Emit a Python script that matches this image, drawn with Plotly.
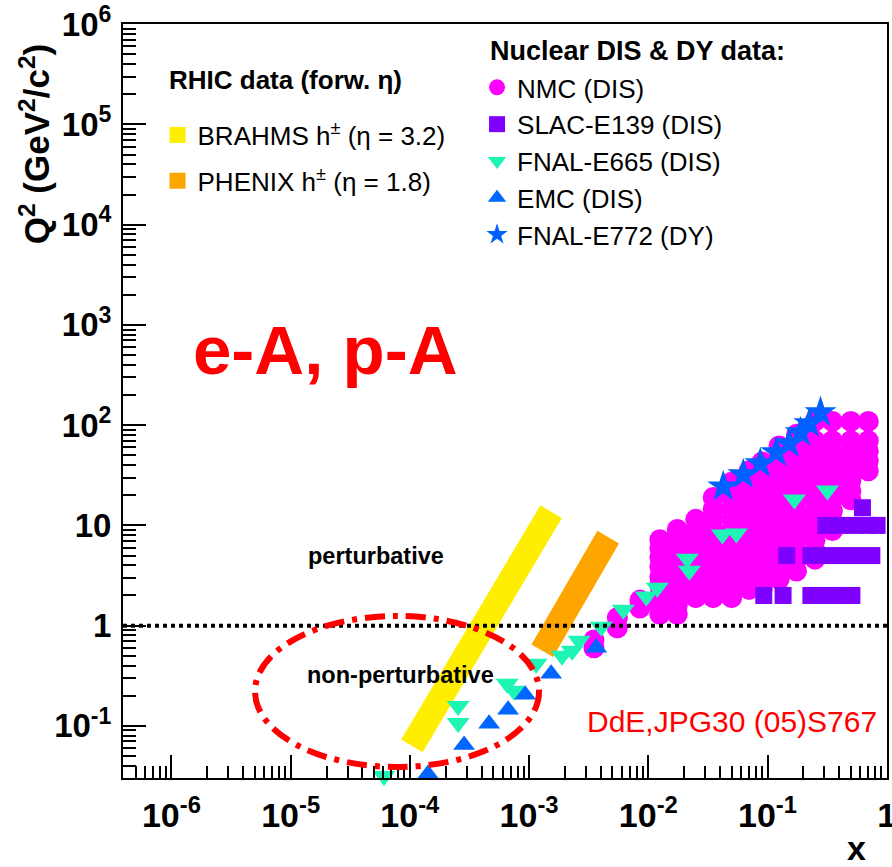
import plotly.graph_objects as go

FONT = "Liberation Sans"

# ---------------- data ----------------
# NMC (DIS): x bins and the Q^2 values measured in each bin
nmc_x_bins = [0.0035, 0.0055, 0.0085, 0.0125, 0.0175, 0.025, 0.035, 0.05,
              0.07, 0.09, 0.125, 0.175, 0.25, 0.35, 0.5, 0.7]
nmc_q2_bins = [
    [0.6, 0.72],
    [0.95, 1.2],
    [1.5, 1.8],
    [1.3, 1.6, 2.0, 2.5, 3.1, 3.9, 4.8, 5.9, 7.2],
    [1.3, 1.6, 2.0, 2.5, 3.1, 3.9, 4.8, 6.0, 7.4, 9.1],
    [1.9, 2.4, 3.0, 3.7, 4.6, 5.7, 7.1, 9.0, 11.5],
    [1.9, 2.4, 3.0, 3.7, 4.6, 5.7, 7.1, 9.0, 11.5, 14.5, 19],
    [1.9, 2.4, 3.0, 3.7, 4.6, 5.7, 7.1, 9.0, 11.5, 14.5, 18.5, 23, 27],
    [2.3, 2.9, 3.6, 4.5, 5.6, 7.1, 8.9, 11, 14, 18, 22, 28, 35],
    [2.3, 2.9, 3.6, 4.5, 5.6, 7.1, 8.9, 11, 14, 18, 22, 28, 35, 43],
    [2.9, 3.6, 4.5, 5.6, 7.1, 8.9, 11, 14, 18, 22, 28, 35, 44, 55, 62],
    [3.5, 4.5, 5.6, 7.1, 8.9, 11, 14, 18, 22, 28, 35, 44, 55, 68, 81],
    [4.6, 5.6, 7.1, 8.9, 11, 14, 18, 22, 28, 35, 44, 55, 70, 109],
    [8.9, 11, 14, 18, 22, 28, 35, 44, 55, 70, 109],
    [18, 22, 28, 35, 44, 55, 70, 109],
    [35, 44, 55, 70, 109],
]

# SLAC-E139 (DIS)
slac_x = [0.093, 0.135, 0.231, 0.307, 0.41, 0.51,
          0.145, 0.231, 0.307, 0.41, 0.55, 0.75,
          0.309, 0.41, 0.547, 0.70, 0.83,
          0.625]
slac_q2 = [2, 2, 2, 2, 2, 2,
           5, 5, 5, 5, 5, 5,
           10, 10, 10, 10, 10,
           15]

# FNAL-E665 (DIS)
e665_x = [6.07e-5, 2.54e-4, 2.54e-4, 6.55e-4, 7.48e-4, 1.145e-3, 1.89e-3,
          2.30e-3, 2.63e-3, 4.03e-3, 6.17e-3, 9.62e-3, 1.19e-2, 2.12e-2,
          2.21e-2, 4.18e-2, 5.47e-2, 0.168, 0.318]
e665_q2 = [0.0316, 0.158, 0.107, 0.263, 0.224, 0.416, 0.50,
           0.561, 0.706, 0.975, 1.44, 1.95, 2.39, 4.66,
           3.53, 8.09, 8.28, 18.1, 22.3]

# EMC (DIS)
emc_x = [1.42e-4, 2.85e-4, 4.62e-4, 6.67e-4, 9.27e-4, 1.53e-3, 3.66e-3]
emc_q2 = [0.0331, 0.0646, 0.105, 0.145, 0.204, 0.331, 0.601]

# FNAL-E772 (DY)
e772_x = [0.0425, 0.0626, 0.087, 0.1186, 0.152, 0.189, 0.224, 0.278]
e772_q2 = [24.4, 32.2, 41.5, 53.4, 65.7, 84.6, 104, 134]

# RHIC forward-rapidity coverage
brahms_x = [1.04e-4, 1.53e-3]
brahms_q2 = [0.063, 13.7]
phenix_x = [1.29e-3, 4.61e-3]
phenix_q2 = [0.561, 7.64]

# axis ticks
x_tickvals = [1e-6, 1e-5, 1e-4, 1e-3, 1e-2, 1e-1, 1]
x_ticktext = ["10<sup>-6</sup>", "10<sup>-5</sup>", "10<sup>-4</sup>",
              "10<sup>-3</sup>", "10<sup>-2</sup>", "10<sup>-1</sup>", "1"]
y_tickvals = [0.1, 1, 10, 100, 1e3, 1e4, 1e5, 1e6]
y_ticktext = ["10<sup>-1</sup>", "1", "10", "10<sup>2</sup>", "10<sup>3</sup>",
              "10<sup>4</sup>", "10<sup>5</sup>", "10<sup>6</sup>"]

# ---------------- colours ----------------
C_NMC = "#FF00FF"
C_SLAC = "#8000FF"
C_E665 = "#1EF5B4"
C_EMC = "#0066FF"
C_E772 = "#0060FF"
C_BRAHMS = "#FFEE00"
C_PHENIX = "#FFA500"
RED = "#FF0000"

nmc_x = [x for x, qs in zip(nmc_x_bins, nmc_q2_bins) for _ in qs]
nmc_q2 = [q for qs in nmc_q2_bins for q in qs]

fig = go.Figure()

# RHIC bands (thick lines)
fig.add_trace(go.Scatter(x=brahms_x, y=brahms_q2, mode="lines",
                         line=dict(color=C_BRAHMS, width=25),
                         showlegend=False, hoverinfo="skip"))
fig.add_trace(go.Scatter(x=phenix_x, y=phenix_q2, mode="lines",
                         line=dict(color=C_PHENIX, width=25),
                         showlegend=False, hoverinfo="skip"))

# legend swatches for RHIC
fig.add_trace(go.Scatter(x=[None], y=[None], mode="markers",
                         marker=dict(symbol="square", size=18, color=C_BRAHMS),
                         name="BRAHMS h<sup>±</sup> (η = 3.2)",
                         legend="legend", legendgroup="g1"))
fig.add_trace(go.Scatter(x=[None], y=[None], mode="markers",
                         marker=dict(symbol="square", size=18, color=C_PHENIX),
                         name="PHENIX h<sup>±</sup> (η = 1.8)",
                         legend="legend", legendgroup="g2"))

# nuclear DIS & DY data
fig.add_trace(go.Scatter(x=nmc_x, y=nmc_q2, mode="markers", name="NMC (DIS)",
                         marker=dict(symbol="circle", size=21, color=C_NMC, line=dict(width=0)),
                         legend="legend2", legendgroup="h1", cliponaxis=False))
fig.add_trace(go.Scatter(x=slac_x, y=slac_q2, mode="markers", name="SLAC-E139 (DIS)",
                         marker=dict(symbol="square", size=17, color=C_SLAC, line=dict(width=0)),
                         legend="legend2", legendgroup="h2", cliponaxis=False))
fig.add_trace(go.Scatter(x=e665_x, y=e665_q2, mode="markers", name="FNAL-E665 (DIS)",
                         marker=dict(symbol="triangle-down", size=20, color=C_E665, line=dict(width=0)),
                         legend="legend2", legendgroup="h3", cliponaxis=False))
fig.add_trace(go.Scatter(x=emc_x, y=emc_q2, mode="markers", name="EMC (DIS)",
                         marker=dict(symbol="triangle-up", size=19, color=C_EMC, line=dict(width=0)),
                         legend="legend2", legendgroup="h4", cliponaxis=False))
fig.add_trace(go.Scatter(x=e772_x, y=e772_q2, mode="markers", name="FNAL-E772 (DY)",
                         marker=dict(symbol="star", size=24, color=C_E772, line=dict(width=0)),
                         legend="legend2", legendgroup="h5", cliponaxis=False))

axis_common = dict(
    type="log", tickmode="array", ticks="inside", tickwidth=1.5,
    tickcolor="black", showline=True, linecolor="black", linewidth=2,
    mirror=True, showgrid=False, zeroline=False, automargin=False,
    ticklabeloverflow="allow",
)

fig.update_layout(
    template="none",
    width=892, height=867,
    margin=dict(l=123, r=5, t=24, b=89, pad=0),
    paper_bgcolor="white", plot_bgcolor="white",
    font=dict(family=FONT, color="black"),
    showlegend=True,
    xaxis=dict(axis_common, range=[-6.406, 0.002], tickvals=x_tickvals, ticktext=x_ticktext,
               ticklen=23, ticklabelstandoff=6,
               tickfont=dict(family=FONT, size=34, color="black", weight="bold"),
               minor=dict(ticks="inside", ticklen=12, tickwidth=1.5, tickcolor="black",
                          dtick="D1", showgrid=False)),
    yaxis=dict(axis_common, range=[-1.52, 6.002], tickvals=y_tickvals, ticktext=y_ticktext,
               ticklen=23, ticklabelstandoff=3,
               tickfont=dict(family=FONT, size=33, color="black", weight="bold"),
               minor=dict(ticks="inside", ticklen=13, tickwidth=1.5, tickcolor="black",
                          dtick="D1", showgrid=False)),
    legend=dict(x=0.0452, y=0.8839, xanchor="left", yanchor="top",
                bgcolor="rgba(0,0,0,0)", borderwidth=0,
                font=dict(family=FONT, size=26, color="black"),
                traceorder="grouped", tracegroupgap=9, itemclick=False),
    legend2=dict(x=0.4634, y=0.9470, xanchor="left", yanchor="top",
                 bgcolor="rgba(0,0,0,0)", borderwidth=0,
                 font=dict(family=FONT, size=26, color="black"),
                 traceorder="grouped", tracegroupgap=0, itemclick=False),
    shapes=[
        dict(type="line", xref="paper", yref="y", x0=0, x1=1, y0=1, y1=1,
             line=dict(color="black", width=4, dash="4px,4px"), layer="above"),
        dict(type="circle", xref="paper", yref="paper",
             x0=0.1728, x1=0.5445, y0=0.0146, y1=0.2149,
             line=dict(color=RED, width=6, dash="20px,8px,5px,8px"), layer="above"),
    ],
    annotations=[
        dict(text="Q<sup>2</sup> (GeV<sup>2</sup>/c<sup>2</sup>)", xref="paper", yref="paper",
             x=-0.1152, y=0.8405, textangle=-90, showarrow=False,
             xanchor="center", yanchor="middle",
             font=dict(family=FONT, size=35, color="black", weight="bold")),
        dict(text="x", xref="paper", yref="paper", x=0.9607, y=-0.0935,
             showarrow=False, xanchor="center", yanchor="middle",
             font=dict(family=FONT, size=34, color="black", weight="bold")),
        dict(text="RHIC data (forw. η)", xref="paper", yref="paper",
             x=0.0576, y=0.9257, showarrow=False, xanchor="left", yanchor="middle",
             font=dict(family=FONT, size=26, color="black", weight="bold")),
        dict(text="Nuclear DIS & DY data:", xref="paper", yref="paper",
             x=0.4777, y=0.9636, showarrow=False, xanchor="left", yanchor="middle",
             font=dict(family=FONT, size=27, color="black", weight="bold")),
        dict(text="e-A, p-A", xref="paper", yref="paper", x=0.2644, y=0.567,
             showarrow=False, xanchor="center", yanchor="middle",
             font=dict(family=FONT, size=69, color=RED, weight="bold")),
        dict(text="perturbative", xref="paper", yref="paper", x=0.3305, y=0.2944,
             showarrow=False, xanchor="center", yanchor="middle",
             font=dict(family=FONT, size=23.5, color="black", weight="bold")),
        dict(text="non-perturbative", xref="paper", yref="paper", x=0.3632, y=0.1366,
             showarrow=False, xanchor="center", yanchor="middle",
             font=dict(family=FONT, size=23.5, color="black", weight="bold")),
        dict(text="DdE,JPG30 (05)S767", xref="paper", yref="paper", x=0.7965, y=0.0743,
             showarrow=False, xanchor="center", yanchor="middle",
             font=dict(family=FONT, size=30, color=RED)),
    ],
)

fig.write_html("out.html")
